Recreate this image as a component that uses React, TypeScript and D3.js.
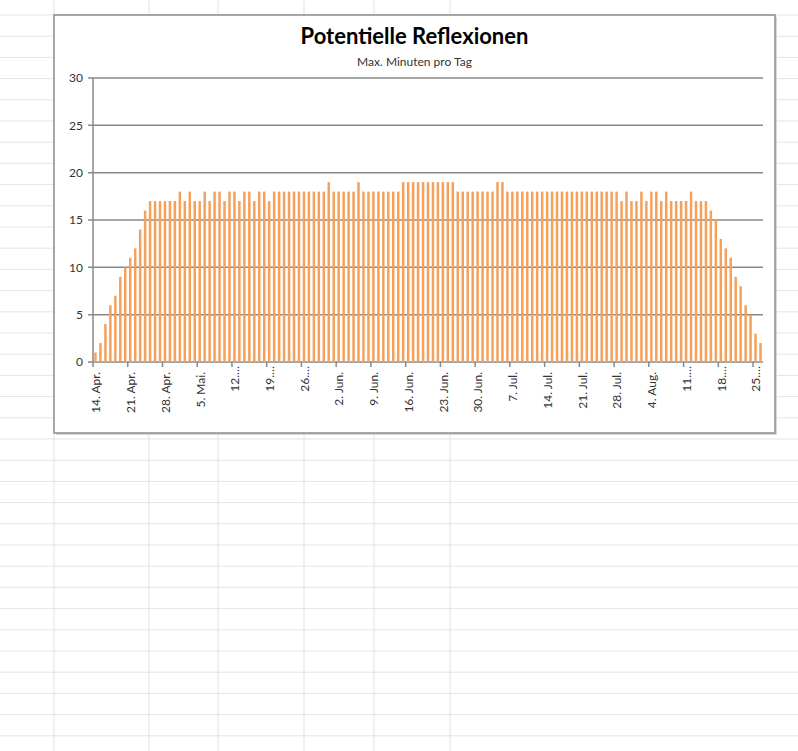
import React from "react";
import * as d3 from "d3";

// ---- data ----
const startDate = new Date(2014, 3, 14); // 14. Apr.
const values: number[] = [
  1, 2, 4, 6, 7, 9, 10, 11, 12, 14, 16,
  17, 17, 17, 17, 17, 17,
  18, 17, 18, 17, 17, 18, 17, 18, 18, 17, 18, 18, 17, 18, 18, 17, 18, 18, 17,
  18, 18, 18, 18, 18, 18, 18, 18, 18, 18, 18,
  19,
  18, 18, 18, 18, 18,
  19,
  18, 18, 18, 18, 18, 18, 18, 18,
  19, 19, 19, 19, 19, 19, 19, 19, 19, 19, 19,
  18, 18, 18, 18, 18, 18, 18, 18,
  19, 19,
  18, 18, 18, 18, 18, 18, 18, 18, 18, 18, 18, 18, 18, 18, 18, 18, 18, 18, 18, 18, 18, 18, 18,
  17, 18, 17, 17, 18, 17, 18, 18, 17, 18, 17, 17, 17, 17, 18, 17, 17, 17,
  16, 15, 13, 12, 11, 9, 8, 6, 5, 3, 2,
];
const categories: Date[] = values.map((_, i) => d3.timeDay.offset(startDate, i));
const tickLabels: string[] = [
  "14. Apr.", "21. Apr.", "28. Apr.", "5. Mai.", "12.…", "19.…", "26.…",
  "2. Jun.", "9. Jun.", "16. Jun.", "23. Jun.", "30. Jun.", "7. Jul.",
  "14. Jul.", "21. Jul.", "28. Jul.", "4. Aug.", "11.…", "18.…", "25.…",
];
const tickEvery = 7;
const yTicks: number[] = [0, 5, 10, 15, 20, 25, 30];
const title = "Potentielle Reflexionen";
const subtitle = "Max. Minuten pro Tag";

// ---- layout ----
const W = 798;
const H = 751;
const box = { x: 54, y: 15, w: 721, h: 418 };
const plot = { left: 93, right: 763, top: 78, bottom: 362 };
const FONT = "Lato, 'Open Sans', sans-serif";
const ORANGE = "#F6A05A";
const GRID = "#888888";

export default function App() {
  const keys = categories.map((d) => +d);
  const x = d3
    .scaleBand<number>()
    .domain(keys)
    .range([plot.left, plot.right])
    .paddingInner(0.5)
    .paddingOuter(0.25);
  const y = d3.scaleLinear().domain([0, 30]).range([plot.bottom, plot.top]);
  const step = x.step();

  const rowLines = d3.range(15, H, 21.2);
  const colLines = [54, 149, 218, 304, 374, 450];

  return (
    <svg
      width={W}
      height={H}
      style={{ position: "absolute", left: 0, top: 0, background: "#fff" }}
      fontFamily={FONT}
    >
      {/* spreadsheet background */}
      <g>
        {rowLines.map((ry, i) => (
          <line key={"r" + i} x1={0} x2={W} y1={ry} y2={ry} stroke="#e4e4e4" strokeWidth={1} />
        ))}
        {colLines.map((cx, i) => (
          <line key={"c" + i} x1={cx} x2={cx} y1={0} y2={H} stroke="#e2e2e2" strokeWidth={1} />
        ))}
      </g>

      {/* chart box */}
      <rect x={box.x + 2} y={box.y + 2} width={box.w} height={box.h} fill="#d8d8d8" />
      <rect x={box.x} y={box.y} width={box.w} height={box.h} fill="#fff" stroke="#8c8c8c" strokeWidth={1.5} />

      {/* titles */}
      <text x={box.x + box.w / 2} y={44} textAnchor="middle" fontSize={22} fontWeight={700} fill="#000">
        {title}
      </text>
      <text x={box.x + box.w / 2} y={66} textAnchor="middle" fontSize={12} fill="#333">
        {subtitle}
      </text>

      {/* gridlines + y ticks */}
      {yTicks.map((t) => (
        <g key={"y" + t}>
          <line x1={plot.left - 5} x2={plot.right} y1={y(t)} y2={y(t)} stroke={GRID} strokeWidth={1.5} />
          <text x={83} y={y(t)} dy="0.35em" textAnchor="end" fontSize={12} fill="#333">
            {t}
          </text>
        </g>
      ))}
      <line x1={plot.left} x2={plot.left} y1={plot.top} y2={plot.bottom} stroke={GRID} strokeWidth={1.5} />

      {/* bars */}
      {keys.map((k, i) => (
        <rect
          key={"b" + i}
          x={x(k)!}
          y={y(values[i])}
          width={x.bandwidth()}
          height={y(0) - y(values[i])}
          fill={ORANGE}
        />
      ))}

      {/* x ticks */}
      {tickLabels.map((lab, j) => {
        const k = keys[j * tickEvery];
        const bx = plot.left + j * tickEvery * step;
        const cx = x(k)! + x.bandwidth() / 2;
        const trunc = lab.includes("…");
        return (
          <g key={"x" + j}>
            <line x1={bx} x2={bx} y1={plot.bottom} y2={plot.bottom + 5} stroke={GRID} strokeWidth={1.5} />
            <text
              transform={`translate(${cx},${plot.bottom + (trunc ? 4 : 10)}) rotate(-90)`}
              dy="0.4em"
              textAnchor="end"
              fontSize={12}
              fill="#333"
            >
              {lab}
            </text>
          </g>
        );
      })}
    </svg>
  );
}
